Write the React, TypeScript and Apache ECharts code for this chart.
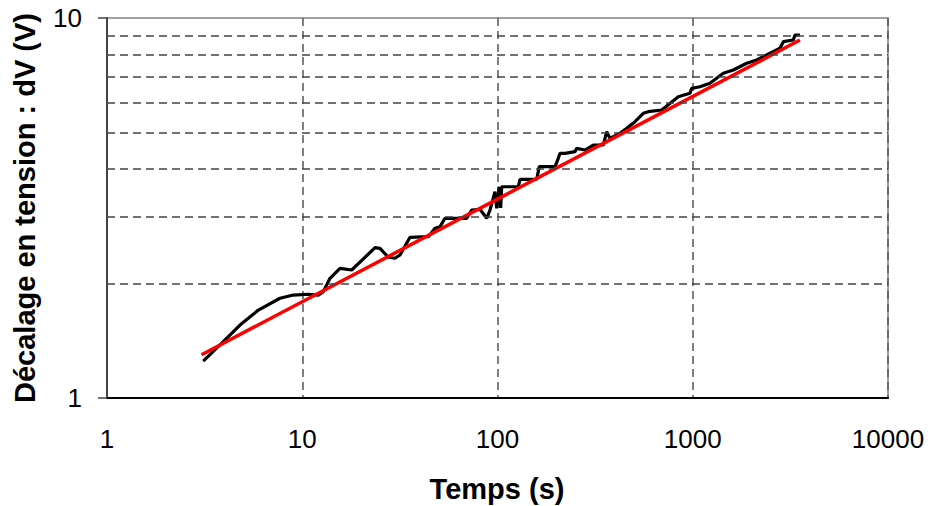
import React, { useEffect, useRef } from "react";
import * as echarts from "echarts";

const measuredTime = [3.11, 3.79, 4.8, 5.96, 7.69, 9.0, 10.74, 12.08, 12.82, 13.87, 15.61, 17.92, 23.59, 25.01, 27.59, 29.86, 31.67, 35.64, 44.22, 47.86, 50.77, 53.84, 69.55, 73.77, 81.35, 88.06, 91.53, 97.1, 99.06, 102.1, 103.8, 105.1, 127.8, 130.4, 158.8, 163.7, 197.0, 204.8, 209.0, 221.7, 249.5, 254.5, 280.6, 309.5, 348.4, 362.6, 376.9, 424.1, 458.9, 506.0, 558.1, 592.0, 693.4, 843.4, 968.0, 987.6, 1089, 1225, 1434, 1614, 1889, 2126, 2392, 2798, 2910, 3273, 3340, 3541];
const measuredDV = [1.251, 1.379, 1.556, 1.704, 1.83, 1.866, 1.875, 1.866, 1.905, 2.065, 2.194, 2.172, 2.486, 2.477, 2.346, 2.332, 2.379, 2.648, 2.658, 2.797, 2.824, 2.971, 2.971, 3.124, 3.137, 2.971, 3.124, 3.492, 3.158, 3.597, 3.162, 3.597, 3.597, 3.763, 3.763, 4.062, 4.062, 4.273, 4.405, 4.405, 4.448, 4.54, 4.494, 4.632, 4.632, 5.021, 4.824, 4.973, 5.126, 5.335, 5.614, 5.668, 5.727, 6.208, 6.337, 6.531, 6.595, 6.733, 7.153, 7.297, 7.6, 7.753, 7.991, 8.323, 8.664, 8.753, 9.022, 9.022];

// Fitted power law (red), straight on log-log axes
const fitTime = [3.05, 3540];
const fitDV = [1.3, 8.75];

// Horizontal minor grid values
const yGridValues = [2, 3, 4, 5, 6, 7, 8, 9];

const xTitle = "Temps (s)";
const yTitle = "Décalage en tension : dV (V)";

export default function App() {
  const ref = useRef<HTMLDivElement>(null);

  useEffect(() => {
    if (!ref.current) return;
    const chart = echarts.init(ref.current, null, { renderer: "svg" });
    const font = "'Liberation Sans', Arial, sans-serif";
    const option = {
      animation: false,
      backgroundColor: "#ffffff",
      grid: {
        left: 107,
        right: 44,
        top: 18,
        bottom: 108,
        show: true,
        borderColor: "#a0a0a0",
        borderWidth: 2,
        backgroundColor: "transparent",
      },
      xAxis: {
        type: "log",
        logBase: 10,
        min: 1,
        max: 10000,
        axisLine: { show: true, onZero: false, lineStyle: { color: "#000", width: 2 } },
        axisTick: { show: false },
        axisLabel: {
          margin: 28,
          fontSize: 26,
          fontFamily: font,
          color: "#000",
          formatter: (v: number) => String(Math.round(v)),
        },
        splitLine: { show: true, lineStyle: { color: "#555", width: 1.5, type: [8, 5] } },
      },
      yAxis: {
        type: "log",
        logBase: 10,
        min: 1,
        max: 10,
        axisLine: { show: true, onZero: false, lineStyle: { color: "#444", width: 2 } },
        axisTick: { show: true, length: 9, lineStyle: { color: "#444", width: 1.5 } },
        axisLabel: {
          margin: 25,
          fontSize: 26,
          fontFamily: font,
          color: "#000",
          formatter: (v: number) => String(Math.round(v)),
        },
        splitLine: { show: false },
      },
      series: [
        {
          type: "line",
          data: [],
          z: 1,
          silent: true,
          markLine: {
            silent: true,
            symbol: ["none", "none"],
            label: { show: false },
            lineStyle: { color: "#444", width: 1.5, type: [8, 5] },
            emphasis: { disabled: true },
            data: yGridValues.map((v) => ({ yAxis: v })),
          },
        },
        {
          name: "Mesure",
          type: "line",
          z: 3,
          showSymbol: false,
          symbol: "none",
          lineStyle: { color: "#000", width: 3.2 },
          data: measuredTime.map((t, i) => [t, measuredDV[i]]),
        },
        {
          name: "Ajustement",
          type: "line",
          z: 4,
          showSymbol: false,
          symbol: "none",
          lineStyle: { color: "#ff0000", width: 3.5 },
          data: fitTime.map((t, i) => [t, fitDV[i]]),
        },
      ],
      graphic: [
        {
          type: "text",
          x: 497,
          y: 489,
          style: {
            text: xTitle,
            font: `bold 29px ${font}`,
            fill: "#000",
            align: "center",
            verticalAlign: "middle",
          },
        },
        {
          type: "text",
          x: 25,
          y: 208,
          rotation: Math.PI / 2,
          style: {
            text: yTitle,
            font: `bold 29px ${font}`,
            fill: "#000",
            align: "center",
            verticalAlign: "middle",
          },
        },
      ],
    };
    chart.setOption(option as any);
    return () => chart.dispose();
  }, []);

  return (
    <div
      ref={ref}
      style={{ position: "fixed", left: 0, top: 0, width: 932, height: 506, background: "#fff" }}
    />
  );
}
